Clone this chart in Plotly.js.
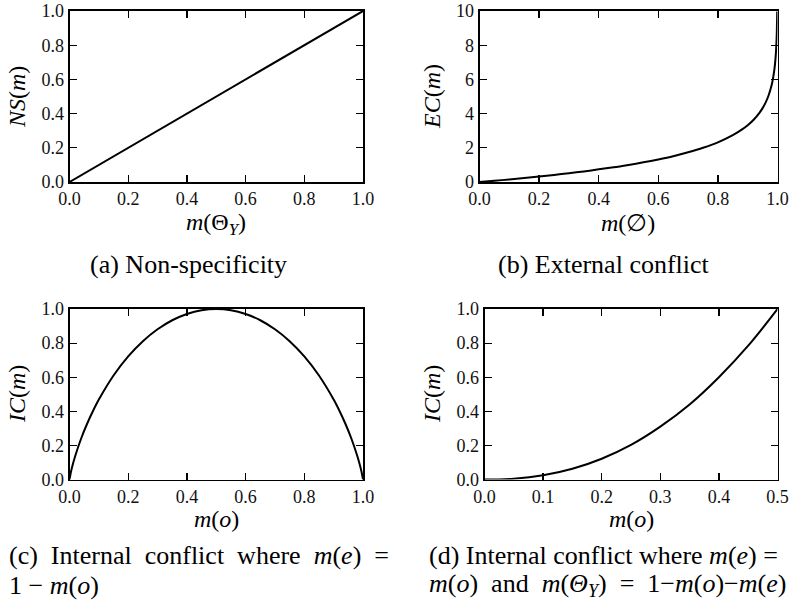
<!DOCTYPE html>
<html>
<head>
<meta charset="utf-8">
<script src="https://cdn.plot.ly/plotly-3.0.1.min.js"></script>
<style>html,body{margin:0;padding:0;background:#fff;}#chart{width:790px;height:601px;}</style>
</head>
<body>
<div id="chart"></div>
<script>
// (a) Non-specificity
const nsX = [0.0, 0.2, 0.4, 0.6, 0.8, 1.0];
const nsY = [0.0, 0.2, 0.4, 0.6, 0.8, 1.0];

// (b) External conflict
const ecX = [0, 0.05, 0.1, 0.15, 0.2, 0.25, 0.3, 0.35, 0.4, 0.45, 0.5, 0.55, 0.6, 0.65, 0.7, 0.75, 0.8, 0.85, 0.88, 0.9, 0.92, 0.94, 0.95, 0.96, 0.97, 0.98, 0.985, 0.99, 0.993, 0.995, 0.997, 0.998, 0.999];
const ecY = [0, 0.07, 0.15, 0.23, 0.32, 0.415, 0.51, 0.62, 0.74, 0.86, 1.0, 1.15, 1.32, 1.51, 1.74, 2.0, 2.32, 2.74, 3.06, 3.32, 3.64, 4.06, 4.32, 4.64, 5.06, 5.64, 6.06, 6.64, 7.16, 7.64, 8.38, 8.97, 9.97];

// (c) Internal conflict, m(e) = 1 - m(o)
const icX = [0, 0.005, 0.01, 0.02, 0.04, 0.06, 0.08, 0.1, 0.15, 0.2, 0.25, 0.3, 0.35, 0.4, 0.45, 0.5, 0.55, 0.6, 0.65, 0.7, 0.75, 0.8, 0.85, 0.9, 0.92, 0.94, 0.96, 0.98, 0.99, 0.995, 1.0];
const icY = [0, 0.045, 0.081, 0.141, 0.242, 0.327, 0.402, 0.469, 0.61, 0.722, 0.811, 0.881, 0.934, 0.971, 0.993, 1.0, 0.993, 0.971, 0.934, 0.881, 0.811, 0.722, 0.61, 0.469, 0.402, 0.327, 0.242, 0.141, 0.081, 0.045, 0];

// (d) Internal conflict, m(e) = m(o)
const ic2X = [0, 0.05, 0.1, 0.15, 0.2, 0.25, 0.3, 0.35, 0.4, 0.45, 0.5];
const ic2Y = [0, 0.005, 0.025, 0.063, 0.122, 0.203, 0.31, 0.44, 0.6, 0.785, 1.0];

const xTicksA = [0.0, 0.2, 0.4, 0.6, 0.8, 1.0];
const xTickTextA = ['0.0', '0.2', '0.4', '0.6', '0.8', '1.0'];
const yTicksA = [0.0, 0.2, 0.4, 0.6, 0.8, 1.0];
const yTickTextA = ['0.0', '0.2', '0.4', '0.6', '0.8', '1.0'];
const yTicksB = [0, 2, 4, 6, 8, 10];
const yTickTextB = ['0', '2', '4', '6', '8', '10'];
const xTicksD = [0.0, 0.1, 0.2, 0.3, 0.4, 0.5];
const xTickTextD = ['0.0', '0.1', '0.2', '0.3', '0.4', '0.5'];

const W = 790, H = 601;
const px = v => v / W;
const py = v => 1 - v / H;
const SERIF = '"Liberation Serif", "DejaVu Serif", serif';
const S = '\u00A0';

function axis(domain, range, tickvals, ticktext, anchor) {
  return {
    domain: domain, range: range, tickvals: tickvals, ticktext: ticktext,
    anchor: anchor, showgrid: false, zeroline: false,
    showline: true, linecolor: '#000', linewidth: 1.8, mirror: 'ticks',
    ticks: 'inside', ticklen: 7, tickwidth: 1.2, tickcolor: '#000',
    tickfont: {family: SERIF, size: 18, color: '#111'}, fixedrange: true
  };
}

const line = {color: '#000', width: 2};
const traces = [
  {x: nsX, y: nsY, xaxis: 'x', yaxis: 'y', mode: 'lines', line: line, showlegend: false},
  {x: ecX, y: ecY, xaxis: 'x2', yaxis: 'y2', mode: 'lines', line: Object.assign({shape: 'spline', smoothing: 0.8}, line), showlegend: false},
  {x: icX, y: icY, xaxis: 'x3', yaxis: 'y3', mode: 'lines', line: Object.assign({shape: 'spline', smoothing: 0.6}, line), showlegend: false},
  {x: ic2X, y: ic2Y, xaxis: 'x4', yaxis: 'y4', mode: 'lines', line: Object.assign({shape: 'spline'}, line), showlegend: false}
];

const dAx = [px(69.5), px(363)], dBx = [px(479.5), px(777.5)], dDx = [px(484.5), px(777.5)];
const dTop = [py(182), py(11)], dBot = [py(479.5), py(309)];

function ann(text, x, y, size, opts) {
  return Object.assign({text: text, x: px(x), y: py(y), xref: 'paper', yref: 'paper',
    showarrow: false, font: {family: SERIF, size: size, color: '#000'}, xanchor: 'center', yanchor: 'middle'}, opts || {});
}

const layout = {
  width: W, height: H, margin: {l: 0, r: 0, t: 0, b: 0},
  paper_bgcolor: '#fff', plot_bgcolor: '#fff', showlegend: false,
  font: {family: SERIF},
  xaxis: axis(dAx, [0, 1], xTicksA, xTickTextA, 'y'),
  yaxis: axis(dTop, [0, 1], yTicksA, yTickTextA, 'x'),
  xaxis2: axis(dBx, [0, 1], xTicksA, xTickTextA, 'y2'),
  yaxis2: axis(dTop, [0, 10], yTicksB, yTickTextB, 'x2'),
  xaxis3: axis(dAx, [0, 1], xTicksA, xTickTextA, 'y3'),
  yaxis3: axis(dBot, [0, 1], yTicksA, yTickTextA, 'x3'),
  xaxis4: axis(dDx, [0, 0.5], xTicksD, xTickTextD, 'y4'),
  yaxis4: axis(dBot, [0, 1], yTicksA, yTickTextA, 'x4'),
  annotations: [
    ann('<i>m</i>(Θ<sub><i>Y</i></sub>)', 216, 224, 24),
    ann('<i>m</i>(∅)', 628, 223, 24),
    ann('<i>m</i>(<i>o</i>)', 216, 519, 24),
    ann('<i>m</i>(<i>o</i>)', 631, 519, 24),
    ann('<i>NS</i>(<i>m</i>)', 17, 97, 24, {textangle: -90}),
    ann('<i>EC</i>(<i>m</i>)', 432, 97, 24, {textangle: -90}),
    ann('<i>IC</i>(<i>m</i>)', 17, 394, 24, {textangle: -90}),
    ann('<i>IC</i>(<i>m</i>)', 432, 394, 24, {textangle: -90}),
    ann('(a) Non-specificity', 188, 264, 26),
    ann('(b) External conflict', 604, 264, 26),
    ann('(c)' + S + S + 'Internal' + S + S + 'conflict' + S + S + 'where' + S + S + '<i>m</i>(<i>e</i>)' + S + S + '=', 7, 555, 26, {xanchor: 'left'}),
    ann('1 − <i>m</i>(<i>o</i>)', 7, 585, 26, {xanchor: 'left'}),
    ann('(d) Internal conflict' + S + 'where' + S + '<i>m</i>(<i>e</i>) =', 427, 555, 26, {xanchor: 'left'}),
    ann('<i>m</i>(<i>o</i>)' + S + S + 'and' + S + S + '<i>m</i>(<i>Θ</i><sub><i>Y</i></sub>)' + S + S + '=' + S + S + '1−<i>m</i>(<i>o</i>)−<i>m</i>(<i>e</i>)', 427, 585, 26, {xanchor: 'left'})
  ]
};

Plotly.newPlot('chart', traces, layout, {displayModeBar: false, staticPlot: true});
</script>
</body>
</html>
